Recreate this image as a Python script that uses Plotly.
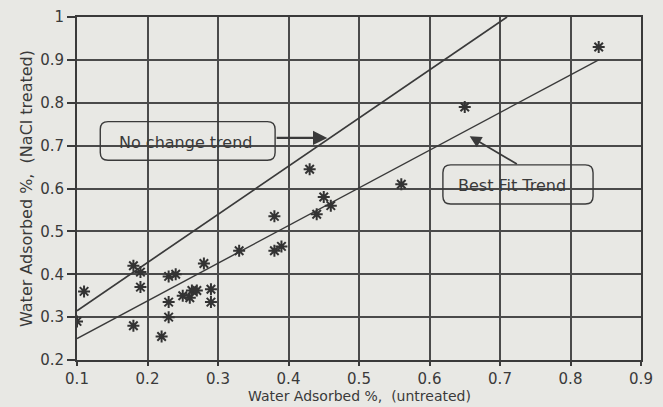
import plotly.graph_objects as go

# data
untreated = [0.84, 0.65, 0.56, 0.43, 0.45, 0.46, 0.44, 0.38, 0.39, 0.38, 0.33,
             0.28, 0.29, 0.29, 0.24, 0.23, 0.23, 0.23, 0.22, 0.18, 0.19, 0.19,
             0.18, 0.11, 0.10, 0.25, 0.26, 0.263, 0.27]
treated = [0.93, 0.79, 0.61, 0.645, 0.58, 0.56, 0.54, 0.535, 0.465, 0.455, 0.455,
           0.425, 0.365, 0.335, 0.40, 0.395, 0.335, 0.30, 0.255, 0.42, 0.405, 0.37,
           0.28, 0.36, 0.29, 0.35, 0.345, 0.362, 0.362]

no_change_x = [0.10, 0.71]
no_change_y = [0.315, 1.0]
fit_x = [0.10, 0.84]
fit_y = [0.25, 0.90]

x_ticks = [0.1, 0.2, 0.3, 0.4, 0.5, 0.6, 0.7, 0.8, 0.9]
y_ticks = [0.2, 0.3, 0.4, 0.5, 0.6, 0.7, 0.8, 0.9, 1.0]
y_tick_text = ["0.2", "0.3", "0.4", "0.5", "0.6", "0.7", "0.8", "0.9", "1"]

x_title = "Water Adsorbed %,  (untreated)"
y_title = "Water Adsorbed %,  (NaCl treated)"

ink = "#3a3a3a"
grid = "#4a4a4a"
paper = "#e8e8e4"
font = "DejaVu Sans"

fig = go.Figure()
fig.add_trace(go.Scatter(x=no_change_x, y=no_change_y, mode="lines",
                         line=dict(color=ink, width=1.7), showlegend=False))
fig.add_trace(go.Scatter(x=fit_x, y=fit_y, mode="lines",
                         line=dict(color=ink, width=1.4), showlegend=False))
fig.add_trace(go.Scatter(x=untreated, y=treated, mode="markers",
                         marker=dict(symbol="asterisk-open", size=10, color="#333333",
                                     line=dict(color="#333333", width=2)),
                         showlegend=False))


def rounded_box(x0, x1, y0, y1, rx=0.011, ry=0.018):
    return (f"M {x0+rx},{y0} L {x1-rx},{y0} Q {x1},{y0} {x1},{y0+ry} "
            f"L {x1},{y1-ry} Q {x1},{y1} {x1-rx},{y1} L {x0+rx},{y1} "
            f"Q {x0},{y1} {x0},{y1-ry} L {x0},{y0+ry} Q {x0},{y0} {x0+rx},{y0} Z")


boxes = [(0.133, 0.381, 0.666, 0.756), (0.619, 0.832, 0.564, 0.655)]
for (bx0, bx1, by0, by1) in boxes:
    fig.add_shape(type="path", path=rounded_box(bx0, bx1, by0, by1),
                  xref="x", yref="y", line=dict(color=ink, width=1.4))

fig.add_annotation(x=0.157, y=0.708, text="No change trend", showarrow=False,
                   xanchor="left", font=dict(family=font, size=16, color=ink))
fig.add_annotation(x=0.637, y=0.608, text="Best Fit Trend", showarrow=False,
                   xanchor="left", font=dict(family=font, size=16, color=ink))

# arrows
fig.add_annotation(x=0.455, y=0.718, ax=0.381, ay=0.718, xref="x", yref="y",
                   axref="x", ayref="y", text="", showarrow=True, arrowhead=2,
                   arrowsize=1.3, arrowwidth=2.2, arrowcolor=ink)
fig.add_annotation(x=0.657, y=0.722, ax=0.726, ay=0.655, xref="x", yref="y",
                   axref="x", ayref="y", text="", showarrow=True, arrowhead=2,
                   arrowsize=1.3, arrowwidth=1.8, arrowcolor=ink)

# x-axis title placed below the tick labels
fig.add_annotation(x=0.5, y=-0.105, xref="paper", yref="paper", text=x_title,
                   showarrow=False, xanchor="center", yanchor="middle",
                   font=dict(family=font, size=14, color=ink))

fig.update_xaxes(range=[0.1, 0.9], tickvals=x_ticks,
                 ticktext=[f"{v:.1f}" for v in x_ticks], automargin=False,
                 showgrid=True, gridcolor=grid, gridwidth=1.8,
                 showline=True, linecolor=ink, linewidth=1.8, mirror=True,
                 ticks="outside", ticklen=4, tickcolor=ink, tickwidth=1.5,
                 zeroline=False, tickfont=dict(family=font, size=15, color=ink))
fig.update_yaxes(range=[0.2, 1.0], tickvals=y_ticks, ticktext=y_tick_text,
                 automargin=False,
                 showgrid=True, gridcolor=grid, gridwidth=1.8,
                 showline=True, linecolor=ink, linewidth=1.8, mirror=True,
                 ticks="outside", ticklen=8, tickcolor=ink, tickwidth=1.5,
                 zeroline=False, tickfont=dict(family=font, size=15, color=ink),
                 title=dict(text=y_title, standoff=4,
                            font=dict(family=font, size=16, color=ink)))

fig.update_layout(width=663, height=407, margin=dict(l=77, r=22, t=17, b=47),
                  paper_bgcolor=paper, plot_bgcolor=paper,
                  font=dict(family=font, color=ink))

fig.write_html("out.html", config={"displayModeBar": False},
               post_script="document.body.style.margin='0';"
                           "document.body.style.overflow='hidden';"
                           "document.body.style.background='#e8e8e4';")
